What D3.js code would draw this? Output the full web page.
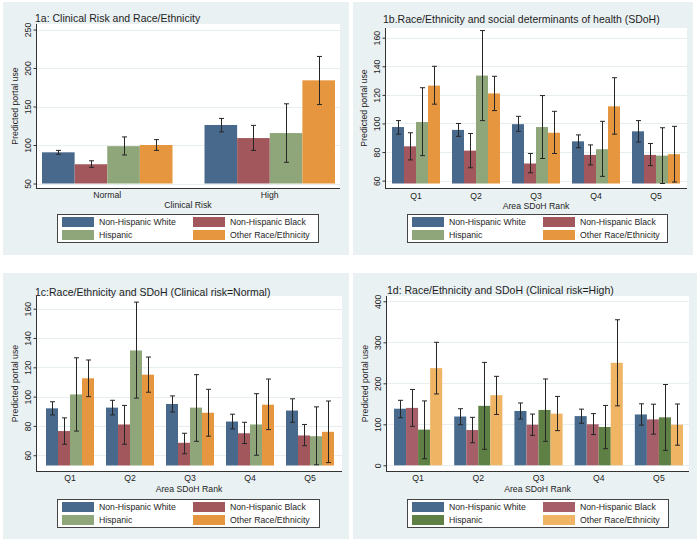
<!DOCTYPE html>
<html><head><meta charset="utf-8">
<script src="https://cdn.jsdelivr.net/npm/d3@7"></script>
<style>
body{margin:0;background:#fff}
svg{display:block}
text{font-family:"Liberation Sans",Arial,Helvetica,sans-serif;fill:#1e1e1e}
</style></head><body>
<script>
// ---------- DATA ----------
const series = ["Non-Hispanic White","Non-Hispanic Black","Hispanic","Other Race/Ethnicity"];
const riskCats = ["Normal","High"];
const sdohCats = ["Q1","Q2","Q3","Q4","Q5"];

// 1a  (rows = series, cols = categories)
const a_est = [[90.5,126],[75,109],[98.5,115.5],[100,184]];
const a_lo  = [[88,117],[71,93],[87,77.5],[93,152.5]];
const a_hi  = [[93,134.5],[79.5,125.5],[110.5,153.5],[107,215]];
const a_ticks = [50,100,150,200,250];

// 1b
const b_est = [[97.5,95.5,99.5,87.5,94.5],[84,81,72,78,78],[101,133.5,97.5,82,77.5],[126.5,121,93.5,112,78.5]];
const b_lo  = [[92.5,91,94.5,83,87],[74.5,69,65.5,71,70.5],[77.5,102,75.5,63,58],[113.5,109,79,92.5,59]];
const b_hi  = [[102,100,105,92,102],[93.5,93,79,85,86],[125,165,119.5,101.5,97],[140,133,108.5,132,98]];
const b_ticks = [60,80,100,120,140,160];

// 1c
const c_est = [[92,92.5,95,83,90.5],[76.5,81,68.5,75,73.5],[101.5,131.5,92.5,81,73],[112.5,115,89,94.5,76]];
const c_lo  = [[87.5,87.5,89.5,78,82.5],[67.5,67.5,61,68,66.5],[76.5,99,69.5,60,53.5],[100,103,73,77.5,55]];
const c_hi  = [[96.5,97.5,100.5,88,98.5],[85.5,94,75,82.5,81],[126.5,164.5,115,102,93],[125,127,105,112,97]];
const c_ticks = [60,80,100,120,140,160];

// 1d
const d_est = [[138,119,132.5,120,124],[140,86,99,100,112],[87,145,135,93.5,117],[237,171,126,250,99]];
const d_lo  = [[116,99,113,102.5,98],[95,55,73,75,76],[16,39,58.5,40.5,36.5],[174,124,84.5,145,49]];
const d_hi  = [[158.5,138,152,137,150],[185,117,125,126,149],[157,251,210.5,146,197],[300,217,168,355,149.5]];
const d_ticks = [0,100,200,300,400];

// ---------- STYLE / LAYOUT ----------
const bgColor = "#eaf1f3", gridColor = "#e6eef0", axisColor = "#333";
const palABC = ["#48698b","#a1575c","#8fa67b","#e6963e"];
const palD   = ["#476a8d","#a65f69","#5f8045","#f0b465"];

const panels = [
  {title:"1a: Clinical Risk and Race/Ethnicity", titleXY:[35,22], bg:[3,2,346,253],
   plot:{l:36,t:24,r:340,b:188}, yDom:[50,250], yRng:[183.5,29.5], ticks:a_ticks,
   cats:riskCats, xRng:[42,335], pad:0.197, est:a_est, lo:a_lo, hi:a_hi,
   xTitle:"Clinical Risk", catY:197.5, xTitleY:207.5, legend:[57,214,261], pal:palABC},
  {title:"1b.Race/Ethnicity and social determinants of health (SDoH)", titleXY:[383,23], bg:[353,2,340,253],
   plot:{l:385,t:28,r:687,b:188}, yDom:[58,160], yRng:[183.5,37.7], ticks:b_ticks,
   cats:sdohCats, xRng:[392,680], pad:0.2, est:b_est, lo:b_lo, hi:b_hi,
   xTitle:"Area SDoH Rank", catY:199, xTitleY:208.5, legend:[407,214,260], pal:palABC},
  {title:"1c:Race/Ethnicity and SDoH (Clinical risk=Normal)", titleXY:[35,295.5], bg:[3,273,346,266],
   plot:{l:36,t:296,r:342,b:471}, yDom:[53,160], yRng:[465.5,308.7], ticks:c_ticks,
   cats:sdohCats, xRng:[46,334], pad:0.2, est:c_est, lo:c_lo, hi:c_hi,
   xTitle:"Area SDoH Rank", catY:481, xTitleY:492, legend:[57,499,262], pal:palABC},
  {title:"1d: Race/Ethnicity and SDoH (Clinical risk=High)", titleXY:[387,294], bg:[353,273,344,266],
   plot:{l:386,t:296,r:689,b:471}, yDom:[0,400], yRng:[465.3,301.3], ticks:d_ticks,
   cats:sdohCats, xRng:[394,683], pad:0.2, est:d_est, lo:d_lo, hi:d_hi,
   xTitle:"Area SDoH Rank", catY:481, xTitleY:492, legend:[407,499,261], pal:palD}
];

const svg = d3.select("body").append("svg").attr("width",700).attr("height",544);

function drawPanel(p){
  const g = svg.append("g");
  g.append("rect").attr("x",p.bg[0]).attr("y",p.bg[1]).attr("width",p.bg[2]).attr("height",p.bg[3]).attr("fill",bgColor);
  const P = p.plot;
  g.append("rect").attr("x",P.l).attr("y",P.t).attr("width",P.r-P.l).attr("height",P.b-P.t).attr("fill","#fff");

  const y = d3.scaleLinear().domain(p.yDom).range(p.yRng);
  const x0 = d3.scaleBand().domain(p.cats).range(p.xRng).paddingInner(p.pad).paddingOuter(0);
  const x1 = d3.scaleBand().domain(series).range([0,x0.bandwidth()]);
  const color = d3.scaleOrdinal().domain(series).range(p.pal);

  // grid
  g.append("g").selectAll("line").data(p.ticks).join("line")
    .attr("x1",P.l).attr("x2",P.r).attr("y1",d=>Math.round(y(d))+0.5).attr("y2",d=>Math.round(y(d))+0.5)
    .attr("stroke",gridColor).attr("stroke-width",1);

  const rows = p.cats.flatMap((c,i)=>series.map((s,j)=>({c,s,v:p.est[j][i],lo:p.lo[j][i],hi:p.hi[j][i]})));
  const base = p.yDom[0];
  g.append("g").selectAll("rect").data(rows).join("rect")
    .attr("x",d=>x0(d.c)+x1(d.s)).attr("width",x1.bandwidth())
    .attr("y",d=>y(d.v)).attr("height",d=>y(base)-y(d.v))
    .attr("fill",d=>color(d.s));

  const eb = g.append("g").attr("stroke","#262626").attr("stroke-width",1).attr("fill","none");
  const cx = d=>Math.round(x0(d.c)+x1(d.s)+x1.bandwidth()/2)+0.5;
  eb.selectAll("line.v").data(rows).join("line").attr("class","v")
    .attr("x1",cx).attr("x2",cx).attr("y1",d=>y(d.lo)).attr("y2",d=>y(d.hi));
  eb.selectAll("line.t").data(rows).join("line").attr("class","t")
    .attr("x1",d=>cx(d)-2.5).attr("x2",d=>cx(d)+2.5).attr("y1",d=>y(d.hi)).attr("y2",d=>y(d.hi));
  eb.selectAll("line.b").data(rows).join("line").attr("class","b")
    .attr("x1",d=>cx(d)-2.5).attr("x2",d=>cx(d)+2.5).attr("y1",d=>y(d.lo)).attr("y2",d=>y(d.lo));

  // y axis
  const ya = g.append("g").attr("transform",`translate(${P.l+0.5},0)`)
    .call(d3.axisLeft(y).tickValues(p.ticks).tickSize(3).tickFormat(d3.format("d")));
  ya.select(".domain").remove();
  ya.selectAll(".tick line").attr("stroke",axisColor);
  ya.selectAll(".tick text").attr("x",null).attr("dy",null).attr("text-anchor","middle")
    .attr("transform","translate(-5.5,0) rotate(-90)").style("font-size","8.7px").attr("fill","#1e1e1e");
  g.append("line").attr("x1",P.l+0.5).attr("x2",P.l+0.5).attr("y1",P.t).attr("y2",P.b+0.5).attr("stroke",axisColor);

  // x axis
  const xa = g.append("g").attr("transform",`translate(0,${P.b})`).call(d3.axisBottom(x0).tickSize(0));
  xa.select(".domain").remove();
  xa.selectAll(".tick text").attr("y",p.catY-P.b).attr("dy",null).style("font-size","8.7px").attr("fill","#1e1e1e");
  g.append("line").attr("x1",P.l).attr("x2",P.r).attr("y1",P.b+0.5).attr("y2",P.b+0.5).attr("stroke",axisColor);

  // titles
  g.append("text").attr("x",p.titleXY[0]).attr("y",p.titleXY[1]).style("font-size","10.5px").text(p.title);
  g.append("text").attr("x",(P.l+P.r)/2).attr("y",p.xTitleY).attr("text-anchor","middle").style("font-size","8.7px").text(p.xTitle);
  g.append("text").attr("transform",`translate(18,${(P.t+P.b)/2}) rotate(-90)`).attr("x",0).attr("y",0)
    .attr("text-anchor","middle").style("font-size","8.7px").text("Predicted portal use")
    .attr("transform",`translate(${P.l-18},${(P.t+P.b)/2}) rotate(-90)`);

  // legend
  const [lx,ly,lw] = p.legend;
  const lg = g.append("g").attr("transform",`translate(${lx},${ly})`);
  lg.append("rect").attr("x",0.5).attr("y",0.5).attr("width",lw).attr("height",28).attr("fill","#fff").attr("stroke","#444").attr("stroke-width",1);
  const pos = [[5,3],[136,3],[5,16],[136,16]];
  series.forEach((s,i)=>{
    const [sx,sy] = pos[i];
    lg.append("rect").attr("x",sx).attr("y",sy).attr("width",32).attr("height",10).attr("fill",color(s));
    lg.append("text").attr("x",sx+37).attr("y",sy+8.3).style("font-size","8.7px").text(s);
  });
}
panels.forEach(drawPanel);
</script>
</body></html>
